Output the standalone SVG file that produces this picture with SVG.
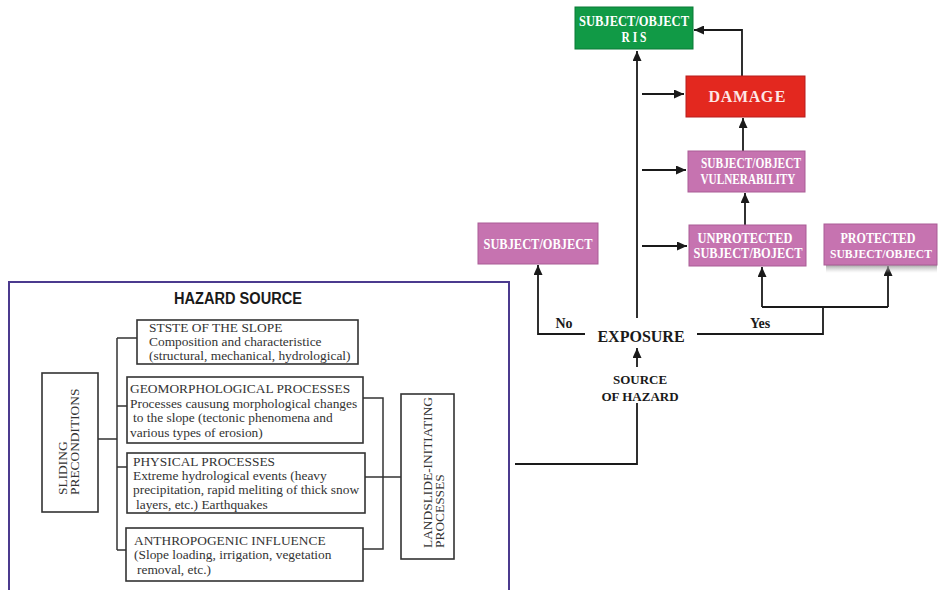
<svg xmlns="http://www.w3.org/2000/svg" width="938" height="590" viewBox="0 0 938 590">
<style>
.bg{fill:#fff}
.wt{font-family:"Liberation Serif",serif;font-weight:bold;fill:#fff;font-size:15px}
.bk{font-family:"Liberation Serif",serif;font-weight:bold;fill:#1a1a1a}
.lt{font-family:"Liberation Serif",serif;font-size:13.4px;fill:#333}
.pink{fill:#c673b0;stroke:#a95c95;stroke-width:1}
.ln{fill:none;stroke:#1a1a1a;stroke-width:1.8}
.lln{fill:none;stroke:#333;stroke-width:1.5}
.box{fill:#fff;stroke:#333;stroke-width:1.6}
</style>
<defs>
<marker id="ah" markerUnits="userSpaceOnUse" markerWidth="11" markerHeight="9" refX="10" refY="4.5" orient="auto">
<path d="M0,0 L10,4.5 L0,9 z" fill="#1a1a1a"/>
</marker>
<linearGradient id="sh" x1="0" y1="0" x2="0" y2="1">
<stop offset="0" stop-color="#999" stop-opacity="0.9"/>
<stop offset="1" stop-color="#ccc" stop-opacity="0"/>
</linearGradient>
</defs>
<rect class="bg" x="0" y="0" width="938" height="590"/>

<g id="connectors">
<path class="ln" d="M637,318 V51" marker-end="url(#ah)"/>
<path class="ln" d="M742,76 V30 H694" marker-end="url(#ah)"/>
<path class="ln" d="M642,94 H684" marker-end="url(#ah)"/>
<path class="ln" d="M642,170 H686" marker-end="url(#ah)"/>
<path class="ln" d="M642,246 H687" marker-end="url(#ah)"/>
<path class="ln" d="M743,151 V118" marker-end="url(#ah)"/>
<path class="ln" d="M745,225 V193" marker-end="url(#ah)"/>
<path class="ln" d="M585,334 H538 V265" marker-end="url(#ah)"/>
<path class="ln" d="M697,334 H823 V307"/>
<path class="ln" d="M762,307 H888"/>
<path class="ln" d="M762,307 V267" marker-end="url(#ah)"/>
<path class="ln" d="M888,307 V266" marker-end="url(#ah)"/>
<path class="ln" d="M515,464 H637 V403"/>
<path class="ln" d="M637,367 V348" marker-end="url(#ah)"/>
<path class="lln" d="M98,439 H117 M117,338 V550 M117,338 H137 M117,406 H127 M117,467 H127 M117,550 H126"/>
<path class="lln" d="M363,398 H383 V549 H363 M365,477 H401"/>
</g>

<g id="risk">
<rect x="575" y="7" width="118" height="42" fill="#119a46" stroke="#0b7a36"/>
<text class="wt" x="634" y="26" text-anchor="middle" textLength="110" lengthAdjust="spacingAndGlyphs">SUBJECT/OBJECT</text>
<text class="wt" x="634" y="42" text-anchor="middle" textLength="25" lengthAdjust="spacingAndGlyphs">R I S</text>
</g>

<g id="damage">
<rect x="686" y="76" width="119" height="41" fill="#e3281f" stroke="#b71c1c"/>
<text class="wt" x="747" y="102" text-anchor="middle" style="font-size:16px;fill:#fde6e6" textLength="77" lengthAdjust="spacing">D A M A G E</text>
</g>

<g id="vulnerability">
<rect class="pink" x="688" y="151" width="117" height="41"/>
<text class="wt" x="751" y="168" text-anchor="middle" textLength="100" lengthAdjust="spacingAndGlyphs">SUBJECT/OBJECT</text>
<text class="wt" x="748" y="184" text-anchor="middle" textLength="95" lengthAdjust="spacingAndGlyphs">VULNERABILITY</text>
</g>

<g id="unprotected">
<rect class="pink" x="689" y="225" width="117" height="41"/>
<text class="wt" x="745" y="243" text-anchor="middle" textLength="95" lengthAdjust="spacingAndGlyphs">UNPROTECTED</text>
<text class="wt" x="748" y="258" text-anchor="middle" textLength="109" lengthAdjust="spacingAndGlyphs">SUBJECT/BOJECT</text>
</g>

<g id="protected">
<rect x="826" y="265" width="111" height="8" fill="url(#sh)"/>
<rect class="pink" x="824" y="224" width="113" height="41"/>
<text class="wt" x="878" y="243" text-anchor="middle" textLength="75" lengthAdjust="spacingAndGlyphs">PROTECTED</text>
<text class="wt" x="881" y="258" text-anchor="middle" style="font-size:12.5px" textLength="102" lengthAdjust="spacingAndGlyphs">SUBJECT/OBJECT</text>
</g>

<g id="subject-object">
<rect class="pink" x="478" y="223" width="120" height="41"/>
<text class="wt" x="538" y="249" text-anchor="middle" textLength="109" lengthAdjust="spacingAndGlyphs">SUBJECT/OBJECT</text>
</g>

<g id="exposure">
<text class="bk" x="641" y="342" text-anchor="middle" font-size="16">EXPOSURE</text>
<text class="bk" x="564" y="328" text-anchor="middle" font-size="14">No</text>
<text class="bk" x="760" y="328" text-anchor="middle" font-size="14">Yes</text>
</g>

<g id="source-of-hazard">
<text class="bk" x="640" y="384" text-anchor="middle" font-size="13">SOURCE</text>
<text class="bk" x="640" y="401" text-anchor="middle" font-size="13">OF HAZARD</text>
</g>

<g id="hazard-source">
<rect x="9" y="282" width="500" height="320" fill="none" stroke="#4b3a8e" stroke-width="2"/>
<text x="238" y="304" text-anchor="middle" font-family="Liberation Sans, Arial, sans-serif" font-weight="bold" font-size="16" fill="#1a1a1a" textLength="128" lengthAdjust="spacingAndGlyphs">HAZARD SOURCE</text>
</g>

<g id="sliding-preconditions">
<rect class="box" x="42" y="373" width="56" height="139"/>
<text class="lt" transform="translate(67,495) rotate(-90)">SLIDING</text>
<text class="lt" transform="translate(79,495) rotate(-90)">PRECONDITIONS</text>
</g>

<g id="state-of-slope">
<rect class="box" x="137" y="320" width="221" height="44"/>
<text class="lt" x="149" y="332">STSTE OF THE SLOPE</text>
<text class="lt" x="149" y="346">Composition and characteristice</text>
<text class="lt" x="149" y="360">(structural, mechanical, hydrological)</text>
</g>

<g id="geomorphological">
<rect class="box" x="127" y="377" width="236" height="66"/>
<text class="lt" x="130" y="393">GEOMORPHOLOGICAL PROCESSES</text>
<text class="lt" x="130" y="408">Processes causung morphological changes</text>
<text class="lt" x="133" y="422">to the slope (tectonic phenomena and</text>
<text class="lt" x="130" y="437">various types of erosion)</text>
</g>

<g id="physical">
<rect class="box" x="127" y="453" width="238" height="60"/>
<text class="lt" x="133" y="466">PHYSICAL PROCESSES</text>
<text class="lt" x="133" y="480">Extreme hydrological events (heavy</text>
<text class="lt" x="133" y="494">precipitation, rapid meliting of thick snow</text>
<text class="lt" x="136" y="509">layers, etc.) Earthquakes</text>
</g>

<g id="anthropogenic">
<rect class="box" x="126" y="528" width="237" height="53"/>
<text class="lt" x="134" y="545">ANTHROPOGENIC INFLUENCE</text>
<text class="lt" x="134" y="559">(Slope loading, irrigation, vegetation</text>
<text class="lt" x="137" y="574">removal, etc.)</text>
</g>

<g id="landslide-initiating">
<rect class="box" x="401" y="394" width="53" height="165"/>
<text class="lt" transform="translate(432,548) rotate(-90)">LANDSLIDE-INITIATING</text>
<text class="lt" transform="translate(444,548) rotate(-90)">PROCESSES</text>
</g>
</svg>
